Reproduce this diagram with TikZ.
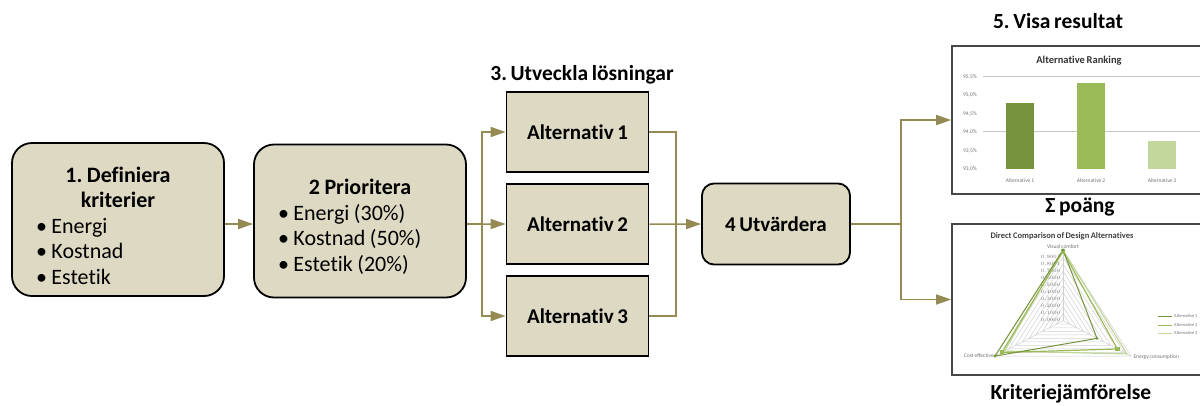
\documentclass[tikz,border=0pt]{standalone}
\usepackage{fontspec}
\setmainfont{Carlito}[Ligatures=NoCommon,WordSpace=0.75]
\usepackage{tikz}
\usetikzlibrary{arrows.meta,positioning}
\usepackage{xcolor}
\definecolor{tanfill}{HTML}{DDD9C3}
\definecolor{flowolive}{HTML}{948A54}
\definecolor{barA}{HTML}{77933C}
\definecolor{barB}{HTML}{9BBB59}
\definecolor{barC}{HTML}{C3D69B}
\frenchspacing
\newcommand\tightspace{\spaceskip=4.5pt\relax}

\begin{document}
\begin{tikzpicture}[x=1pt,y=-1pt,
      node distance=10.2pt,
      stage/.style={draw,line width=1.8pt,rounded corners=20pt,fill=tanfill,
                    minimum width=212pt,minimum height=153pt,text width=164pt,
                    font=\fontsize{22}{25.5}\selectfont},
      alt/.style={draw,line width=1.8pt,fill=tanfill,minimum width=142pt,
                  minimum height=80pt,font=\fontsize{21}{25}\selectfont\bfseries},
      heading/.style={font=\fontsize{21.5}{25}\selectfont\bfseries,inner sep=0pt,anchor=base},
      chart/.style={draw=black!72,line width=1.6pt,fill=white},
      link/.style={draw=flowolive,line width=1.5pt},
      arr/.style={link,-{Triangle[length=15pt,width=10pt]}},
      ticklabel/.style={font=\fontsize{5.5}{6}\selectfont,text=black!55,inner sep=1pt},
      gridline/.style={draw=black!22,line width=0.8pt},
      radargrid/.style={draw=black!18,line width=0.5pt}]
    \useasboundingbox (0,0) rectangle (1200,405);

    \node[stage] (define) at (118,219.5)
      {\tightspace\centering\bfseries\rule{0pt}{28pt}1. Definiera\\kriterier\par
       \raggedright\mdseries\textbullet\ Energi\\\textbullet\ Kostnad\\\textbullet\ Estetik};
    \node[stage] (prio) at (360,221)
      {\tightspace\centering\bfseries\rule{0pt}{27pt}2 Prioritera\par
       \raggedright\mdseries\textbullet\ Energi (30\%)\\\textbullet\ Kostnad (50\%)\\\textbullet\ Estetik (20\%)};

    \node[heading] (develop) at (582,80) {3. Utveckla lösningar};
    \node[alt] (alt1) at (577.5,132) {Alternativ 1};
    \node[alt,below=of alt1] (alt2) {Alternativ 2};
    \node[alt,below=of alt2] (alt3) {Alternativ 3};

    \node[alt,rounded corners=12pt,minimum width=148pt,minimum height=81pt] (evaluate)
      at (776,224) {4 Utvärdera};

    \node[heading] (show) at (1058,28.5) {5. Visa resultat};
    \node[heading] (score) at (1080,212) {Σ poäng};
    \node[heading] (compare) at (1071,399) {Kriteriejämförelse};

    \begin{scope}
      \clip (940,0) rectangle (1200,405);
      \node[chart,minimum width=253pt,minimum height=148pt] (ranking) at (1078.5,120) {};
      \node[font=\fontsize{10.5}{12}\selectfont\bfseries,text=black!80] (rankingtitle)
        at (1079,61) {Alternative Ranking};
      \draw[gridline] (983,76.5) -- (1205,76.5);
      \draw[gridline] (983,131.5) -- (1205,131.5);
      \foreach \t [count=\i from 0] in {{93,0\%},{93,5\%},{94,0\%},{94,5\%},{95,0\%},{95,5\%}}
        \node[ticklabel,anchor=east] at (978,{169-18.5*\i}) {\t};
      \foreach \x/\top/\c in {1006/103/barA,1077/83/barB,1148/141/barC}
        \fill[\c] (\x,\top) rectangle ({\x+28},169);
      \foreach \x/\n in {1020/1,1091/2,1162/3}
        \node[ticklabel] at (\x,181) {Alternative \n};

      \node[chart,minimum width=253pt,minimum height=151pt] (radar) at (1078.5,299.5) {};
      \node[font=\fontsize{8.5}{10}\selectfont\bfseries,text=black!75] (radartitle)
        at (1062,236) {Direct Comparison of Design Alternatives};
      \begin{scope}[shift={(1063,320.7)},x={(78.5pt,0pt)},y={(0pt,70.7pt)}]
        \foreach \r in {0.1,0.2,...,1.0}
          \draw[radargrid] (90:\r) -- (-30:\r) -- (210:\r) -- cycle;
        \foreach \a in {90,-30,210}
          \draw[radargrid] (0,0) -- (\a:1);
        \foreach \r in {0,0.1,...,1.0}
          \node[ticklabel,font=\fontsize{4.5}{5}\selectfont,anchor=east] at (-0.02,\r)
            {\pgfmathprintnumber[fixed,fixed zerofill,precision=4,use comma]{\r}};
        \draw[barC,line width=1.2pt] (90:1) -- (-30:0.94) -- (210:0.86) -- cycle;
        \draw[barB,line width=1.2pt] (90:0.98) -- (-30:0.8) -- (210:0.9) -- cycle;
        \draw[barA,line width=1pt] (90:1) -- (-30:0.5) -- (210:1) -- cycle;
        \foreach \p in {(90:0.98),(-30:0.8),(210:0.9)}
          \fill[barB] \p ++(-2.2pt,-2.2pt) rectangle ++(4.4pt,4.4pt);
        \foreach \p in {(90:1),(-30:0.5),(210:1)}
          \fill[barA] \p circle (1.6pt);
        \node[ticklabel,anchor=south] at (90:1) {Visual comfort};
        \node[ticklabel,anchor=east] at (210:1) {Cost effective};
        \node[ticklabel,anchor=west] at (-30:1.02) {Energy consumption};
      \end{scope}
      \foreach \y/\c/\n in {316/barA/1,325/barB/2,333/barC/3} {
        \draw[\c,line width=1pt] (1158,\y) -- (1172,\y);
        \node[ticklabel,font=\fontsize{4.5}{5}\selectfont,anchor=west] at (1173,\y) {Alternative \n};
      }
    \end{scope}

    \coordinate (mid) at (0,224);
    \coordinate (split) at (482,224);
    \coordinate (join) at (676,224);
    \coordinate (fork) at (901,224);

    \draw[arr] (define.east |- mid) -- (prio.west |- mid);
    \draw[link] (prio.east |- mid) -- (split);
    \draw[arr] (split) |- (alt1.west);
    \draw[arr] (split) -- (alt2.west);
    \draw[arr] (split) |- (alt3.west);
    \draw[link] (alt1.east) -| (join);
    \draw[link] (alt3.east) -| (join);
    \draw[arr] (alt2.east) -- (evaluate.west);
    \draw[link] (evaluate.east) -- (fork);
    \draw[arr] (fork) |- (ranking.west);
    \draw[arr] (fork) |- (radar.west);
  \end{tikzpicture}
\end{document}
